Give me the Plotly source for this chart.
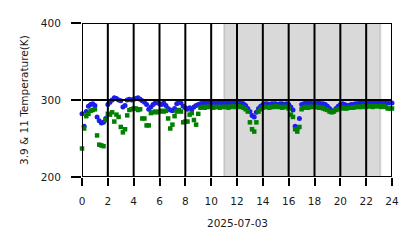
import plotly.graph_objects as go

# ---- data (10-minute samples, hours of day 2025-07-03) ----
blue_39 = [
    282, 266, 285, 292, 294, 295,
    293, 278, 273, 270, 271, 276,
    294, 297, 300, 303, 302, 300,
    299, 291, 293, 300, 301, 300,
    301, 302, 303, 301, 299, 297,
    294, 288, 291, 294, 296, 297,
    295, 294, 296, 293, 289, 287,
    286, 289, 295, 298, 296, 292,
    290, 288, 290, 288, 291, 293,
    294, 295, 296, 296, 297, 296,
    296, 297, 296, 296, 297, 296,
    296, 296, 297, 296, 296, 297,
    296, 296, 296, 295, 293, 289,
    285, 280, 278, 284, 289, 292,
    294, 295, 295, 294, 295, 295,
    295, 294, 295, 295, 294, 295,
    294, 291, 287, 266, 263, 276,
    294, 295, 296, 295, 296, 295,
    296, 295, 296, 295, 295, 294,
    292, 289, 286, 286, 289, 292,
    294, 295, 294, 293, 293, 294,
    294, 295, 295, 296, 296, 296,
    296, 296, 297, 296, 296, 296,
    297, 296, 296, 297, 296, 296,
    296,
]
green_11 = [
    237, 263, 279, 282, 286, 287,
    288, 254, 242, 241, 240, 274,
    282, 281, 284, 272, 281, 278,
    265, 258, 262, 280, 287, 288,
    289, 289, 287, 288, 276, 276,
    267, 267, 283, 284, 285, 284,
    285, 286, 285, 286, 276, 263,
    268, 279, 285, 287, 285, 271,
    272, 272, 281, 283, 274, 268,
    282, 290, 291, 290, 291, 291,
    291, 290, 291, 291, 290, 291,
    291, 291, 290, 291, 292, 291,
    291, 292, 291, 290, 288, 285,
    271, 262, 259, 271, 285, 288,
    290, 291, 291, 290, 291, 291,
    292, 291, 291, 290, 291, 291,
    289, 281, 278, 262, 259, 265,
    288, 290, 291, 290, 291, 291,
    291, 291, 290, 290, 289, 288,
    287, 285, 284, 285, 287, 288,
    289, 290, 289, 289, 290, 290,
    290, 291, 291, 291, 291, 292,
    291, 292, 292, 291, 292, 292,
    292, 291, 292, 291, 289, 289,
    289,
]
hours = [i / 6 for i in range(len(blue_39))]

x_ticks = [0, 2, 4, 6, 8, 10, 12, 14, 16, 18, 20, 22, 24]
y_ticks = [200, 300, 400]
night = [11.0, 23.1]
x_range = [0, 24]
y_range = [200, 400]
date_label = "2025-07-03"
y_label = "3.9 & 11 Temperature(K)"

fig = go.Figure()
fig.add_trace(go.Scatter(
    x=hours, y=blue_39, mode="markers", cliponaxis=False,
    marker=dict(color="rgb(30,30,235)", size=5, symbol="circle", line=dict(width=0)),
    showlegend=False,
))
fig.add_trace(go.Scatter(
    x=hours, y=green_11, mode="markers", cliponaxis=False,
    marker=dict(color="rgb(0,128,0)", size=4.5, symbol="square", line=dict(width=0)),
    showlegend=False,
))

shapes = [dict(type="rect", xref="x", yref="y", x0=night[0], x1=night[1],
               y0=y_range[0], y1=y_range[1], layer="below",
               fillcolor="rgba(128,128,128,0.3)",
               line=dict(color="rgba(128,128,128,0.25)", width=2))]
for xv in x_ticks:
    shapes.append(dict(type="line", xref="x", yref="y", x0=xv, x1=xv,
                       y0=y_range[0], y1=y_range[1], layer="above",
                       line=dict(color="black", width=2)))
for yv in y_ticks:
    shapes.append(dict(type="line", xref="x", yref="y", x0=x_range[0], x1=x_range[1],
                       y0=yv, y1=yv, layer="above",
                       line=dict(color="black", width=2)))

font = dict(family="DejaVu Sans", size=10.5, color="#1a1a1a")
fig.update_layout(
    width=418, height=248,
    margin=dict(l=82, r=26, t=23, b=71),
    paper_bgcolor="white", plot_bgcolor="white",
    font=font,
    shapes=shapes,
    xaxis=dict(range=x_range, tickvals=x_ticks, ticktext=[str(v) for v in x_ticks],
               showgrid=False, zeroline=False, showline=False,
               ticks="outside", ticklen=8, tickwidth=2, tickcolor="black",
               ticklabelstandoff=6, tickfont=font),
    yaxis=dict(range=y_range, tickvals=y_ticks, ticktext=[str(v) for v in y_ticks],
               showgrid=False, zeroline=False, showline=False,
               ticks="outside", ticklen=10, tickwidth=2, tickcolor="black",
               ticklabelstandoff=8, tickfont=font),
    annotations=[
        dict(text=date_label, xref="paper", yref="paper", x=0.5, y=-0.299,
             xanchor="center", yanchor="middle", showarrow=False, font=font),
        dict(text=y_label, xref="paper", yref="paper", x=-0.187, y=0.5,
             xanchor="center", yanchor="middle", textangle=-90, showarrow=False, font=font),
    ],
)

fig.write_html("out.html")
